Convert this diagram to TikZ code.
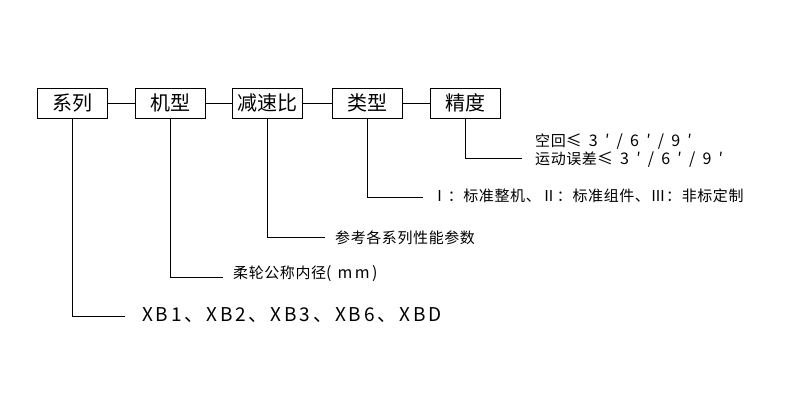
\documentclass[tikz,border=0pt]{standalone}
\usepackage{tikz}
\usepackage{fontspec}
\newfontfamily\cjk[LetterSpace=4]{Noto Sans CJK SC}
\newfontfamily\cjkbox{Noto Sans CJK SC}
\newfontfamily\cjkwide[LetterSpace=15]{Noto Sans CJK SC}
\newfontfamily\cjkspread[LetterSpace=45]{Noto Sans CJK SC}
\newcommand{\spread}[1]{{\cjkspread\fontsize{16}{18}\selectfont #1}}
\tikzset{
 box/.style={draw,line width=0.9pt,minimum width=70pt,minimum height=30pt,inner sep=0pt,font=\cjkbox\fontsize{20}{22}\selectfont},
 lead/.style={line width=0.9pt},
 note/.style={anchor=west,inner sep=0pt,font=\cjk\fontsize{15}{17}\selectfont}
}
\begin{document}
\begin{tikzpicture}[x=1pt,y=-1pt]
 \useasboundingbox (0,0) rectangle (800,400);
 \node [box] (S1) at (72,103) {系列};
 \node [box] (S2) at (170.5,103) {机型};
 \node [box] (S3) at (267.5,103) {减速比};
 \node [box] (S4) at (367,103) {类型};
 \node [box] (S5) at (465.5,103) {精度};
 \draw[lead] (S1) -- (S2);
 \draw[lead] (S2) -- (S3);
 \draw[lead] (S3) -- (S4);
 \draw[lead] (S4) -- (S5);

 \coordinate (C1) at (125,316);
 \coordinate (C2) at (223,277);
 \coordinate (C3) at (325,237);
 \coordinate (C4) at (423,197);
 \coordinate (C5) at (522,158);
 \draw[lead] (S1.south) |- (C1);
 \draw[lead] (S2.south) |- (C2);
 \draw[lead] (S3.south) |- (C3);
 \draw[lead] (S4.south) |- (C4);
 \draw[lead] (S5.south) |- (C5);

 \node [note,font=\cjkwide\fontsize{19}{21}\selectfont] (T1) at (142,315) {XB1、XB2、XB3、XB6、XBD};
 \node [note] (T2) at (233,274) {柔轮公称内径{\cjkwide\fontsize{16}{18}\selectfont(\ mm)}};
 \node [note] (T3) at (335,237.5) {参考各系列性能参数};
 \node [note] (T4) at (432,196) {Ⅰ：标准整机、Ⅱ：标准组件、Ⅲ：非标定制};
 \node [note] (T5) at (535,141.5) {空回\spread{≤3′/6′/9′}};
 \node [note] (T6) at (535,160) {运动误差\spread{≤3′/6′/9′}};
\end{tikzpicture}
\end{document}
